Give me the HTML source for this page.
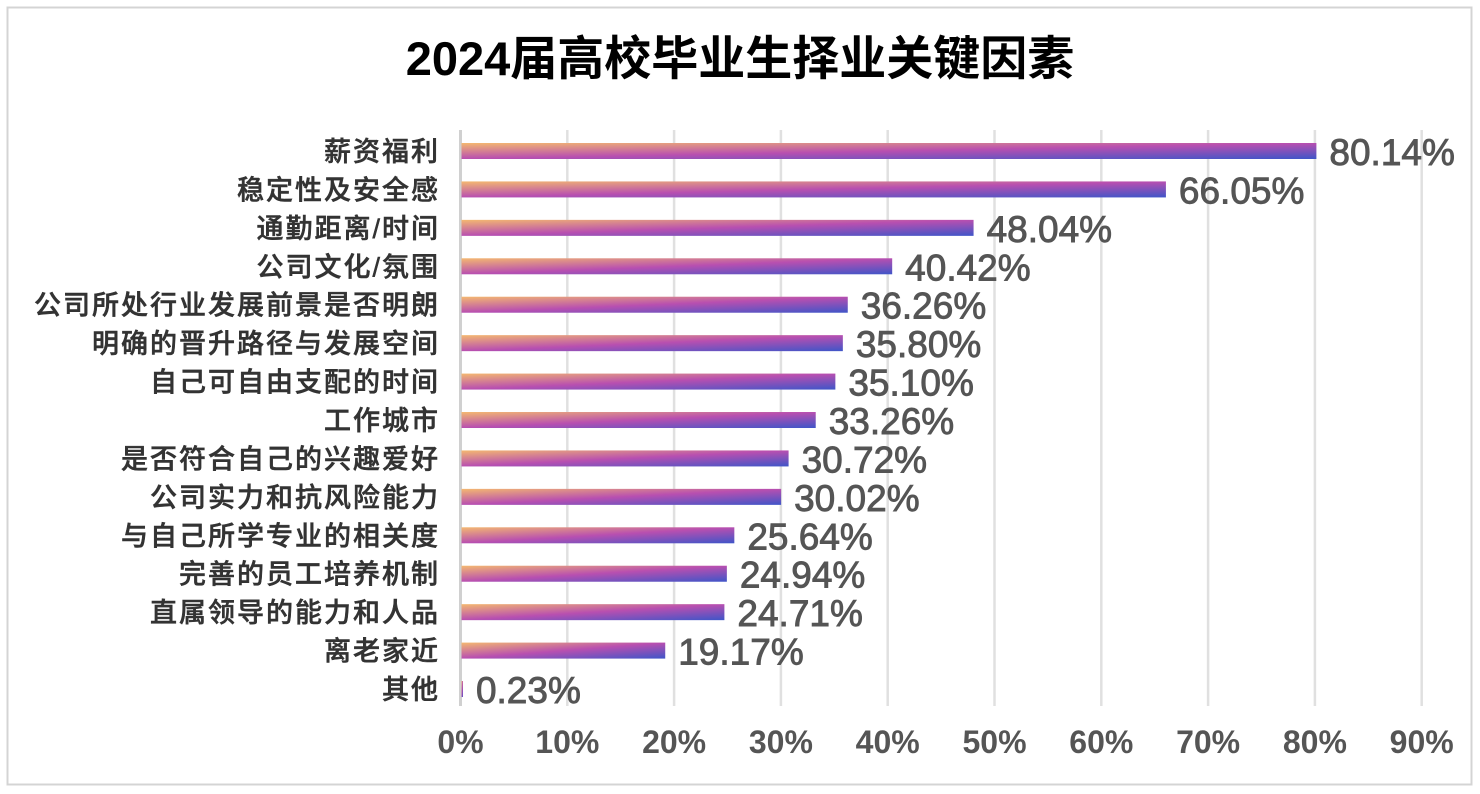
<!DOCTYPE html>
<html><head><meta charset="utf-8"><style>
html,body{margin:0;padding:0;background:#fff;}
svg{display:block;}
text{font-family:"Liberation Sans","Noto Sans CJK SC",sans-serif;}
</style></head><body>
<svg id="chart" width="1480" height="794" xmlns="http://www.w3.org/2000/svg">
<defs>
<linearGradient id="barGrad" x1="0" y1="0" x2="1" y2="1">
<stop offset="0" stop-color="#f4b870"/>
<stop offset="0.5" stop-color="#b84fb0"/>
<stop offset="1" stop-color="#3f55c8"/>
</linearGradient>
</defs>
<rect x="7.5" y="7.5" width="1464" height="777" fill="#fff" stroke="#d4d4d4" stroke-width="2"/>
<text x="740" y="75" text-anchor="middle" font-size="47" font-weight="bold" fill="#000">2024届高校毕业生择业关键因素</text>
<g id="grid"></g><g id="bars"></g><g id="labels"></g>
</svg>
<script>
const categories=["薪资福利","稳定性及安全感","通勤距离/时间","公司文化/氛围","公司所处行业发展前景是否明朗","明确的晋升路径与发展空间","自己可自由支配的时间","工作城市","是否符合自己的兴趣爱好","公司实力和抗风险能力","与自己所学专业的相关度","完善的员工培养机制","直属领导的能力和人品","离老家近","其他"];
const values=[80.14,66.05,48.04,40.42,36.26,35.80,35.10,33.26,30.72,30.02,25.64,24.94,24.71,19.17,0.23];
const ticks=[0,10,20,30,40,50,60,70,80,90];
const NS="http://www.w3.org/2000/svg";
const x0=460.5,pxPer=10.68;
const xs=v=>x0+v*pxPer;
const y0=151,step=38.43;
const ys=i=>y0+i*step;
function mk(tag,attrs,parent){const e=document.createElementNS(NS,tag);for(const k in attrs)e.setAttribute(k,attrs[k]);parent.appendChild(e);return e;}
const grid=document.getElementById('grid'),bars=document.getElementById('bars'),labels=document.getElementById('labels');
ticks.forEach(t=>{
 const l=mk('line',{x1:xs(t),x2:xs(t),y1:130,y2:706,stroke:t===0?'#d0d0d0':'#e0e0e0','stroke-width':t===0?3:2.5},grid);
 
 
 const tx=mk('text',{x:xs(t),y:753,'text-anchor':'middle','font-size':32,'font-weight':'bold',fill:'#555'},labels);
 tx.textContent=t+'%';
 
 
});
categories.forEach((c,i)=>{
 const y=ys(i),v=values[i];
 const r=mk('rect',{x:x0+1,y:y-8,width:Math.max(1.5,xs(v)-x0-1),height:16,fill:'url(#barGrad)'},bars);
 
 
 const cl=mk('text',{x:440,y:y+10,'text-anchor':'end','font-size':27,'letter-spacing':'2','font-weight':'500',fill:'#333',stroke:'#333','stroke-width':'0.5'},labels);
 cl.textContent=c;
 
 
 const vl=mk('text',{x:xs(v)+13,y:y+14,'font-size':37,fill:'#555',stroke:'#555','stroke-width':'0.9'},labels);
 vl.textContent=v.toFixed(2)+'%';
 
 
});
</script>
</body></html>
